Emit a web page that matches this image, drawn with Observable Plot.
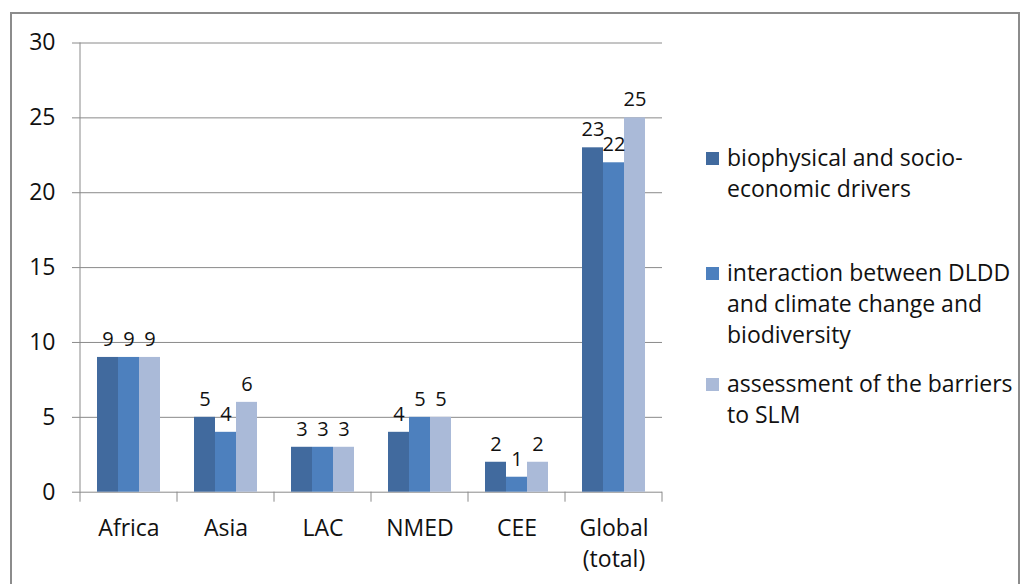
<!DOCTYPE html>
<html><head><meta charset="utf-8">
<script src="https://cdn.jsdelivr.net/npm/d3@7"></script>
<script src="https://cdn.jsdelivr.net/npm/@observablehq/plot@0.6"></script>
<style>
body{margin:0;background:#fff;font-family:"Open Sans",sans-serif;color:#111}
#wrap{position:relative;width:1025px;height:584px;overflow:hidden;background:#fff}
#border{position:absolute;left:10px;top:12px;width:1010px;height:640px;border:2px solid #8c8c8c;box-sizing:border-box}
#chart{position:absolute;left:0;top:0}
.leg{position:absolute;left:706px;font-size:23px;line-height:31px;display:flex;align-items:flex-start;white-space:nowrap}
.sw{width:13px;height:13px;margin-top:10px;margin-right:8px;flex:none}
</style></head>
<body>
<div id="wrap"><div id="border"></div><div id="chart"></div><div id="legend"></div></div>
<script>
const regions = ["Africa", "Asia", "LAC", "NMED", "CEE", "Global (total)"];
const series = [
  "biophysical and socio-economic drivers",
  "interaction between DLDD and climate change and biodiversity",
  "assessment of the barriers to SLM"
];
const legendLines = [
  ["biophysical and socio-", "economic drivers"],
  ["interaction between DLDD", "and climate change and", "biodiversity"],
  ["assessment of the barriers", "to SLM"]
];
const drivers = [9, 5, 3, 4, 2, 23];
const interaction = [9, 4, 3, 5, 1, 22];
const barriers = [9, 6, 3, 5, 2, 25];
const yTicks = [0, 5, 10, 15, 20, 25, 30];
const colors = ["#416A9E", "#4D80BE", "#AABAD8"];

const valuesBySeries = [drivers, interaction, barriers];
const data = regions.flatMap((r, i) => series.map((s, j) => ({region: r, series: s, value: valuesBySeries[j][i]})));

const grey = "#8a8a8a";
const chart = Plot.plot({
  width: 680, height: 584,
  marginLeft: 78, marginRight: 17, marginTop: 42.5, marginBottom: 92.3,
  style: {fontFamily: "'Open Sans', sans-serif", fontSize: "23px", color: "#111", background: "transparent"},
  fx: {domain: regions, padding: 0, label: null},
  x: {domain: series, axis: null, paddingInner: 0, paddingOuter: 0.79},
  y: {domain: [0, 30], label: null},
  color: {domain: series, range: colors},
  marks: [
    Plot.gridY(yTicks, {stroke: grey, strokeOpacity: 1, strokeWidth: 1}),
    Plot.axisY(yTicks, {tickSize: 8, tickPadding: 17, stroke: grey, strokeOpacity: 1, fontSize: 23, label: null, tickFormat: d => d}),
    Plot.axisFx({anchor: "bottom", tickSize: 0, tickPadding: 22, fontSize: 23, label: null, lineHeight: 1.35,
      tickFormat: d => d.replace(" (", "\n(")}),
    Plot.barY(data, {fx: "region", x: "series", y: "value", fill: "series"}),
    Plot.text(data, {fx: "region", x: "series", y: "value", text: "value", dy: -18, fontSize: 20, fill: "#111"})
  ]
});
document.getElementById("chart").appendChild(chart);

// axis line and category boundary ticks using Plot's own scales
const fx = chart.scale("fx"), y = chart.scale("y");
const svg = d3.select(chart);
const bounds = regions.map(r => fx.apply(r)).concat([fx.apply(regions[regions.length - 1]) + fx.bandwidth]);
const g = svg.append("g").attr("stroke", grey).attr("stroke-width", 1);
g.append("line").attr("x1", bounds[0]).attr("x2", bounds[0]).attr("y1", y.apply(30)).attr("y2", y.apply(0));
g.selectAll("line.b").data(bounds).join("line").attr("class", "b")
  .attr("x1", d => d).attr("x2", d => d).attr("y1", y.apply(0)).attr("y2", y.apply(0) + 10);

// legend
const legTops = [142, 257, 368];
const legend = d3.select("#legend");
series.forEach((s, i) => {
  const item = legend.append("div").attr("class", "leg").style("top", legTops[i] + "px");
  item.append("div").attr("class", "sw").style("background", colors[i]);
  item.append("div").html(legendLines[i].join("<br>"));
});
</script>
</body></html>
